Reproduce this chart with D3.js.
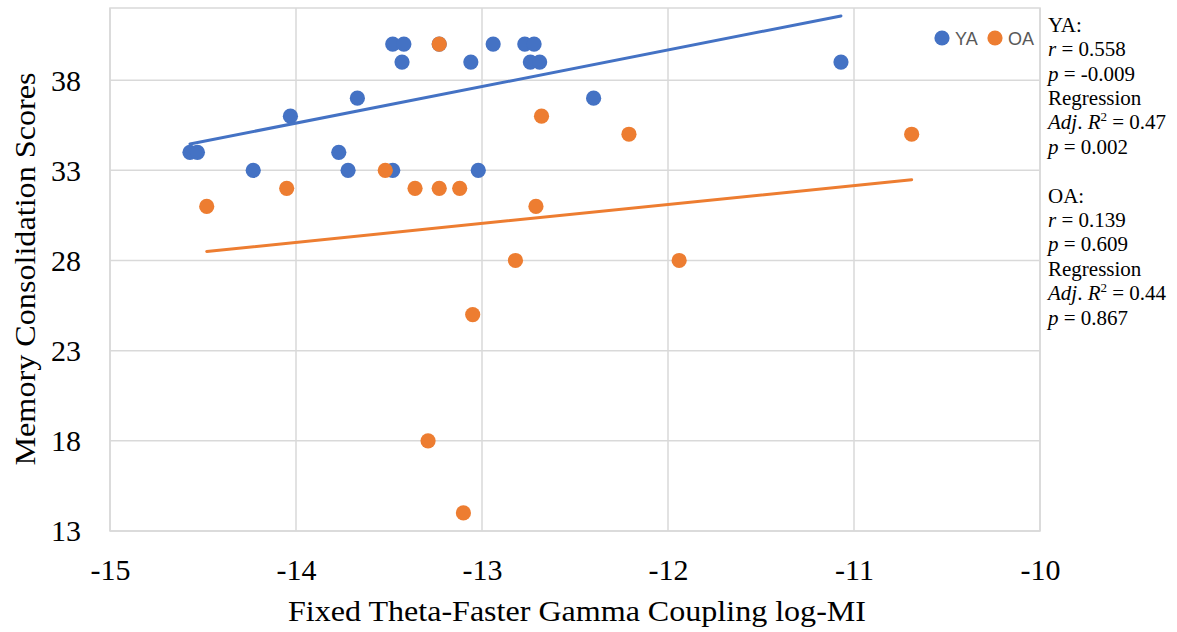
<!DOCTYPE html>
<html>
<head>
<meta charset="utf-8">
<script src="https://cdn.jsdelivr.net/npm/d3@7"></script>
<style>
  body { margin: 0; background: #fff; }
  svg { display: block; }
</style>
</head>
<body>
<script>
// data
const yaX = [-14.57, -14.53, -14.23, -14.03, -13.77, -13.72, -13.67, -13.48, -13.42, -13.43, -13.48,
             -13.23, -13.06, -13.02, -12.94, -12.77, -12.72, -12.74, -12.69, -12.40, -11.07];
const yaY = [34, 34, 33, 36, 34, 33, 37, 40, 40, 39, 33,
             40, 39, 33, 40, 40, 40, 39, 39, 37, 39];
const oaX = [-14.48, -14.05, -13.52, -13.36, -13.23, -13.23, -13.12, -13.29, -13.10, -13.05, -12.82,
             -12.71, -12.68, -12.21, -11.94, -10.69];
const oaY = [31, 32, 33, 32, 40, 32, 32, 18, 14, 25, 28,
             31, 36, 35, 28, 35];
// linear trendline end points
const yaTrendX = [-14.57, -11.07];
const yaTrendY = [34.46, 41.56];
const oaTrendX = [-14.48, -10.69];
const oaTrendY = [28.5, 32.48];
// ticks
const xTicks = [-15, -14, -13, -12, -11, -10];
const yTicks = [13, 18, 23, 28, 33, 38];
// legend + stats box
const groups = ['YA', 'OA'];
const rValues = ['0.558', '0.139'];
const pValues = ['-0.009', '0.609'];
const adjR2 = ['0.47', '0.44'];
const regP = ['0.002', '0.867'];

const width = 1177, height = 632;
const colors = { YA: '#4472C4', OA: '#ED7D31' };
const serif = '"Liberation Serif", "Times New Roman", serif';

const svg = d3.select('body').append('svg')
  .attr('width', width)
  .attr('height', height);

const xScale = d3.scaleLinear().domain([-15, -10]).range([110, 1040]);
const yScale = d3.scaleLinear().domain([13, 42]).range([531, 8]);

// gridlines
svg.append('g')
  .selectAll('line')
  .data(xTicks)
  .enter()
  .append('line')
  .attr('x1', d => xScale(d)).attr('x2', d => xScale(d))
  .attr('y1', yScale(42)).attr('y2', yScale(13))
  .attr('stroke', '#d9d9d9').attr('stroke-width', 1.5);
svg.append('g')
  .selectAll('line')
  .data(yTicks)
  .enter()
  .append('line')
  .attr('x1', xScale(-15)).attr('x2', xScale(-10))
  .attr('y1', d => yScale(d)).attr('y2', d => yScale(d))
  .attr('stroke', '#d9d9d9').attr('stroke-width', 1.5);
svg.append('rect')
  .attr('x', xScale(-15)).attr('y', yScale(42))
  .attr('width', xScale(-10) - xScale(-15))
  .attr('height', yScale(13) - yScale(42))
  .attr('fill', 'none')
  .attr('stroke', '#d9d9d9').attr('stroke-width', 1.5);

// axes (labels only)
let xAxis = d3.axisBottom(xScale).tickValues(xTicks).tickSize(0).tickFormat(d3.format('d'));
let gx = svg.append('g')
  .attr('transform', 'translate(0,' + yScale(13) + ')')
  .call(xAxis);
gx.select('.domain').remove();
gx.selectAll('text')
  .attr('y', 49).attr('dy', 0)
  .attr('fill', '#000')
  .style('font-family', serif)
  .style('font-size', '30px')
  .text(d => String(d));

let yAxis = d3.axisLeft(yScale).tickValues(yTicks).tickSize(0).tickPadding(29);
let gy = svg.append('g')
  .attr('transform', 'translate(' + xScale(-15) + ',0)')
  .call(yAxis);
gy.select('.domain').remove();
gy.selectAll('text')
  .attr('dy', '0.33em')
  .attr('fill', '#000')
  .style('font-family', serif)
  .style('font-size', '30px');

// axis titles
svg.append('text')
  .attr('x', 577).attr('y', 621)
  .attr('text-anchor', 'middle')
  .style('font-family', serif)
  .style('font-size', '29px')
  .attr('textLength', 578)
  .attr('lengthAdjust', 'spacingAndGlyphs')
  .text('Fixed Theta-Faster Gamma Coupling log-MI');
svg.append('text')
  .attr('transform', 'translate(35,269) rotate(-90)')
  .attr('text-anchor', 'middle')
  .style('font-family', serif)
  .style('font-size', '30px')
  .attr('textLength', 393)
  .attr('lengthAdjust', 'spacingAndGlyphs')
  .text('Memory Consolidation Scores');

// points
let drawPoints = (xs, ys, color) => {
  svg.append('g')
    .selectAll('circle')
    .data(xs.map((x, i) => [x, ys[i]]))
    .enter()
    .append('circle')
    .attr('cx', d => xScale(d[0]))
    .attr('cy', d => yScale(d[1]))
    .attr('r', 7.6)
    .attr('fill', color);
};
drawPoints(yaX, yaY, colors.YA);
drawPoints(oaX, oaY, colors.OA);

// trendlines
let line = d3.line().x(d => xScale(d[0])).y(d => yScale(d[1]));
svg.append('path')
  .attr('d', line(yaTrendX.map((x, i) => [x, yaTrendY[i]])))
  .attr('stroke', colors.YA).attr('stroke-width', 3).attr('fill', 'none')
  .attr('stroke-linecap', 'round');
svg.append('path')
  .attr('d', line(oaTrendX.map((x, i) => [x, oaTrendY[i]])))
  .attr('stroke', colors.OA).attr('stroke-width', 3).attr('fill', 'none')
  .attr('stroke-linecap', 'round');

// legend
let legendX = [942, 995];
let legend = svg.append('g')
  .selectAll('g')
  .data(groups)
  .enter()
  .append('g')
  .attr('transform', (d, i) => 'translate(' + legendX[i] + ',38)');
legend.append('circle').attr('r', 7.6).attr('fill', d => colors[d]);
legend.append('text')
  .attr('x', 13).attr('y', 6.5)
  .attr('fill', '#595959')
  .style('font-family', '"Liberation Sans", Arial, sans-serif')
  .style('font-size', '18px')
  .text(d => d);

// stats box
let stats = svg.append('text')
  .style('font-family', serif)
  .style('font-size', '21px')
  .attr('fill', '#000');
let lineH = 24.4;
groups.forEach((g, gi) => {
  let y0 = 31.7 + gi * 7 * lineH;
  let lines = [
    [{ t: g + ':' }],
    [{ t: 'r', i: true }, { t: ' = ' + rValues[gi] }],
    [{ t: 'p', i: true }, { t: ' = ' + pValues[gi] }],
    [{ t: 'Regression' }],
    [{ t: 'Adj', i: true }, { t: '. ' }, { t: 'R', i: true }, { t: '2', sup: true }, { t: ' = ' + adjR2[gi], down: true }],
    [{ t: 'p', i: true }, { t: ' = ' + regP[gi] }]
  ];
  lines.forEach((parts, k) => {
    parts.forEach((p, pi) => {
      let s = stats.append('tspan').text(p.t);
      if (pi === 0) s.attr('x', 1048).attr('y', y0 + k * lineH);
      if (p.i) s.style('font-style', 'italic');
      if (p.sup) s.style('font-size', '13px').attr('dy', -8);
      if (p.down) s.attr('dy', 8);
    });
  });
});
</script>
</body>
</html>
